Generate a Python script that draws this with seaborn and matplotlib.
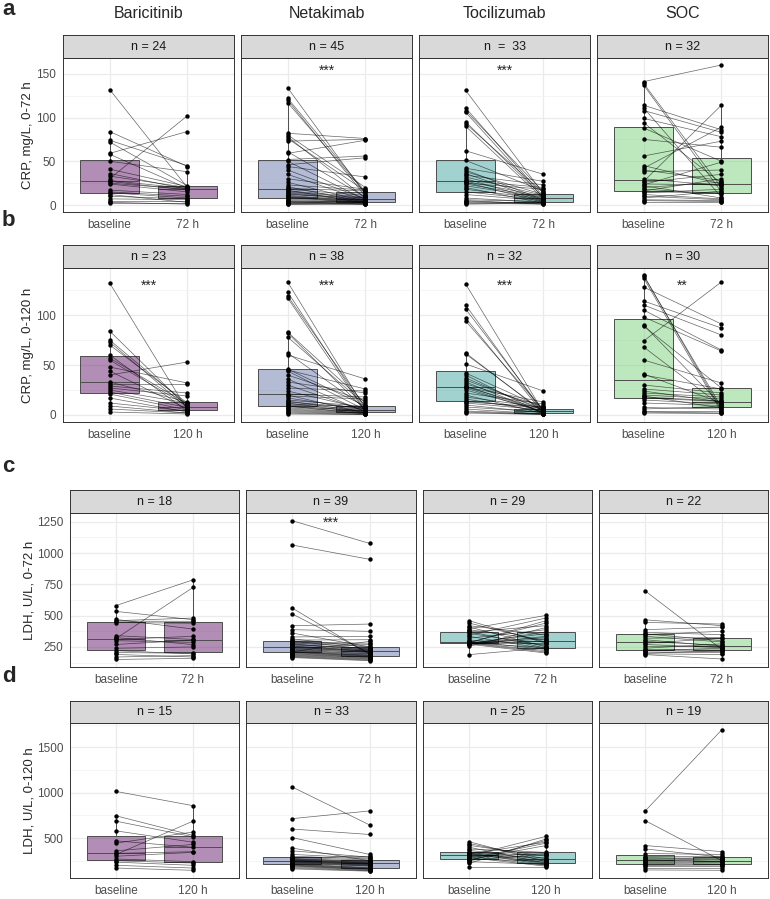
import pandas as pd
import seaborn as sns
import matplotlib.pyplot as plt
from matplotlib.ticker import FixedLocator

# Panel text
drugs = ['Baricitinib', 'Netakimab', 'Tocilizumab', 'SOC']
row_letters = ['a', 'b', 'c', 'd']
row_ylabels = ['CRP, mg/L, 0-72 h', 'CRP, mg/L, 0-120 h', 'LDH, U/L, 0-72 h', 'LDH, U/L, 0-120 h']
row_timepoints = ['72 h', '120 h', '72 h', '120 h']
strip_labels = [['n = 24', 'n = 45', 'n  =  33', 'n = 32'],
                ['n = 23', 'n = 38', 'n = 32', 'n = 30'],
                ['n = 18', 'n = 39', 'n = 29', 'n = 22'],
                ['n = 15', 'n = 33', 'n = 25', 'n = 19']]
signif = [['', '***', '***', ''],
          ['***', '***', '***', '**'],
          ['', '***', '', ''],
          ['', '', '', '']]
signif_y = [153, 129, 1242, 0]

# a: CRP 0-72 h (baseline, 72 h, paired by position)
crp72_bari_base = [132, 84, 74, 72, 59, 58, 50, 41, 36, 33, 30, 28, 27, 25, 24, 17, 15, 14, 12, 10, 7, 5, 3, 2]
crp72_bari_72h = [20, 44, 45, 22, 84, 19, 38, 21, 18, 20, 102, 19, 17, 18, 15, 12, 10, 8, 3, 7, 6, 5, 1, 2]
crp72_neta_base = [134, 122, 120, 117, 82, 80, 78, 76, 73, 61, 59, 52, 50, 46, 44, 40, 35, 30, 26, 23, 21, 19, 18,
                   17, 16, 15, 14, 13, 12, 11, 10, 9, 9, 8, 7, 6, 5, 5, 4, 3, 3, 2, 2, 1, 1]
crp72_neta_72h = [12, 15, 10, 14, 76, 20, 8, 16, 75, 9, 74, 56, 6, 54, 32, 7, 5, 18, 4, 17, 3, 16, 11,
                  2, 9, 8, 6, 5, 8, 4, 3, 7, 2, 6, 5, 4, 3, 5, 1, 4, 2, 1, 3, 1, 2]
crp72_toci_base = [131, 111, 108, 106, 95, 93, 90, 62, 51, 42, 40, 38, 36, 34, 32, 30, 28, 27, 26, 25, 24, 22, 20,
                   18, 15, 12, 8, 6, 5, 4, 3, 2, 1]
crp72_toci_72h = [13, 10, 15, 8, 9, 14, 7, 35, 16, 27, 6, 12, 5, 23, 11, 4, 20, 10, 3, 18, 9, 8, 2,
                  7, 6, 5, 3, 4, 1, 2, 3, 1, 2]
crp72_soc_base = [141, 139, 137, 114, 111, 108, 99, 94, 88, 75, 56, 45, 42, 40, 38, 30, 27, 26, 24, 23, 22, 20, 18,
                  16, 15, 14, 12, 10, 8, 6, 5, 3]
crp72_soc_72h = [160, 20, 15, 86, 9, 83, 78, 25, 50, 66, 73, 24, 89, 28, 40, 22, 114, 35, 23, 49, 8, 26, 13,
                 30, 14, 18, 7, 6, 16, 5, 4, 3]

# b: CRP 0-120 h
crp120_bari_base = [132, 84, 75, 73, 70, 60, 57, 55, 48, 44, 40, 33, 31, 29, 27, 25, 23, 21, 17, 12, 9, 6, 3]
crp120_bari_120h = [5, 8, 10, 7, 12, 4, 11, 9, 32, 6, 53, 13, 31, 22, 19, 12, 7.5, 5, 3, 4, 2, 2, 1]
crp120_neta_base = [133, 123, 119, 117, 83, 82, 78, 62, 60, 46, 45, 44, 40, 36, 33, 30, 27, 24, 21, 20, 19, 17, 15,
                    14, 13, 12, 11, 10, 9, 9, 8, 7, 6, 5, 4, 3, 2, 1]
crp120_neta_120h = [6, 4, 8, 3, 12, 5, 10, 7, 36, 9, 26, 5, 14, 3, 22, 4, 24, 6, 18, 2, 16, 5.5, 8.5,
                    3, 7, 2, 8, 6, 4, 1, 5, 3.5, 2.5, 2, 1.5, 1, 0.5, 0.5]
crp120_toci_base = [131, 110, 106, 97, 94, 62, 61, 51, 42, 40, 37, 35, 33, 31, 29, 28, 28, 27, 25, 22, 20, 18, 16,
                    14, 13, 12, 10, 8, 6, 4, 3, 2]
crp120_toci_120h = [3, 2, 4, 1.5, 5, 2.5, 3.5, 24, 7, 1, 4.5, 6, 2, 9, 3, 5.5, 13, 2.5, 4, 11, 1.5, 7.5, 3.5,
                    6.5, 8, 5, 2, 3, 1, 1, 0.5, 0.5]
crp120_soc_base = [140, 139, 137, 128, 114, 110, 105, 98, 90, 89, 74, 68, 55, 41, 40, 30, 26, 24, 22, 20, 19, 18,
                   17, 15, 12, 7.5, 6, 4, 3, 2]
crp120_soc_120h = [5, 8, 3, 91, 87, 80, 65, 64, 10, 27, 133, 9, 32, 12, 26, 22, 20, 13, 18, 16, 7, 14,
                   13.5, 11, 9.5, 6, 8.5, 4, 2, 1.5]

# c: LDH 0-72 h
ldh72_bari_base = [581, 534, 470, 460, 456, 445, 340, 325, 318, 310, 300, 270, 240, 220, 205, 190, 170, 150]
ldh72_bari_72h = [786, 468, 393, 481, 455, 440, 310, 269, 725, 335, 287, 305, 250, 195, 200, 170, 181, 160]
ldh72_neta_base = [1258, 1064, 560, 513, 420, 388, 361, 330, 315, 305, 298, 290, 285, 280, 275, 270, 265, 258, 254,
                   250, 246, 240, 235, 230, 225, 220, 216, 212, 210, 208, 205, 200, 195, 190, 185, 180, 175, 170, 165]
ldh72_neta_72h = [1077, 950, 190, 200, 433, 375, 250, 335, 245, 308, 230, 280, 270, 255, 224, 240, 235, 215, 227,
                  220, 212, 218, 208, 205, 197, 193, 186, 295, 183, 180, 176, 172, 168, 165, 160, 155, 150, 145, 140]
ldh72_toci_base = [460, 441, 420, 410, 395, 388, 375, 369, 360, 345, 335, 320, 305, 295, 287, 285, 284, 283, 282,
                   281, 280, 279, 277, 276, 275, 272, 270, 255, 189]
ldh72_toci_72h = [280, 290, 345, 250, 502, 305, 240, 420, 260, 481, 235, 388, 270, 230, 441, 285, 325, 220, 460,
                  245, 356, 210, 315, 295, 370, 202, 335, 405, 242]
ldh72_soc_base = [698, 467, 446, 388, 367, 355, 350, 335, 320, 308, 295, 280, 270, 255, 240, 229, 222, 220, 210,
                  200, 195, 189]
ldh72_soc_72h = [230, 420, 433, 409, 348, 300, 375, 290, 325, 255, 262, 320, 245, 250, 275, 225, 215, 240, 205,
                 220, 190, 154]

# d: LDH 0-120 h
ldh120_bari_base = [1015, 746, 687, 580, 470, 445, 360, 332, 320, 300, 270, 250, 235, 200, 170]
ldh120_bari_120h = [858, 530, 515, 455, 399, 567, 430, 350, 687, 343, 240, 225, 200, 170, 145]
ldh120_neta_base = [1063, 715, 600, 505, 390, 360, 320, 300, 287, 280, 275, 270, 265, 260, 257, 253, 250, 246, 242,
                    238, 235, 230, 225, 220, 215, 210, 205, 200, 195, 190, 180, 170, 160]
ldh120_neta_120h = [645, 800, 540, 320, 250, 290, 280, 270, 257, 300, 245, 240, 235, 230, 226, 223, 220, 217, 213,
                    210, 205, 200, 195, 190, 175, 170, 165, 160, 155, 150, 145, 140, 135]
ldh120_toci_base = [460, 440, 420, 400, 380, 365, 351, 340, 335, 330, 325, 320, 313, 305, 300, 295, 285, 275, 269,
                    262, 255, 250, 240, 220, 183]
ldh120_toci_120h = [240, 269, 300, 222, 343, 260, 215, 310, 205, 250, 455, 230, 285, 519, 200, 330, 190, 444, 245,
                    418, 320, 474, 210, 490, 183]
ldh120_soc_base = [798, 694, 418, 381, 330, 296, 287, 275, 265, 257, 250, 240, 231, 220, 205, 200, 190, 175, 149]
ldh120_soc_120h = [1697, 250, 351, 290, 320, 300, 265, 285, 240, 258, 275, 245, 230, 215, 207, 203, 190, 175, 145]

panels = [
    [(crp72_bari_base, crp72_bari_72h), (crp72_neta_base, crp72_neta_72h),
     (crp72_toci_base, crp72_toci_72h), (crp72_soc_base, crp72_soc_72h)],
    [(crp120_bari_base, crp120_bari_120h), (crp120_neta_base, crp120_neta_120h),
     (crp120_toci_base, crp120_toci_120h), (crp120_soc_base, crp120_soc_120h)],
    [(ldh72_bari_base, ldh72_bari_72h), (ldh72_neta_base, ldh72_neta_72h),
     (ldh72_toci_base, ldh72_toci_72h), (ldh72_soc_base, ldh72_soc_72h)],
    [(ldh120_bari_base, ldh120_bari_120h), (ldh120_neta_base, ldh120_neta_120h),
     (ldh120_toci_base, ldh120_toci_120h), (ldh120_soc_base, ldh120_soc_120h)],
]

# Styling
fill_colors = [(0.40, 0.11, 0.43, 0.5), (0.41, 0.47, 0.68, 0.5), (0.27, 0.65, 0.63, 0.5), (0.49, 0.82, 0.49, 0.5)]
row_ylim = [(-8, 168), (-7, 147), (90, 1320), (60, 1770)]
row_yticks = [[0, 50, 100, 150], [0, 50, 100], [250, 500, 750, 1000, 1250], [500, 1000, 1500]]
row_yminor = [[25, 75, 125], [25, 75, 125], [125, 375, 625, 875, 1125], [250, 750, 1250, 1750]]

# Layout in pixels (strip top, panel top, panel bottom)
W, H = 770, 899
row_px = [(35, 58, 212), (245, 268, 422), (490, 513, 667), (701, 723, 878)]
col_px_ab = [(63, 234), (241, 412), (419, 590), (597, 768)]
col_px_cd = [(70, 239), (246, 416), (423, 592), (599, 768)]
letter_y = [15, 226, 472, 682]
ylabel_x = [28, 28, 30, 29]

sns.set_style('white')
plt.rcParams['font.family'] = ['Liberation Sans', 'DejaVu Sans']

fig = plt.figure(figsize=(W / 100, H / 100), dpi=100)


def px_axes(x0, y0, x1, y1):
    return fig.add_axes([x0 / W, 1 - y1 / H, (x1 - x0) / W, (y1 - y0) / H])


edge = '#333333'
for r in range(4):
    strip_top, top, bottom = row_px[r]
    cols = col_px_ab if r < 2 else col_px_cd
    for c in range(4):
        x0, x1 = cols[c]
        base, follow = panels[r][c]
        n = len(base)
        df = pd.DataFrame({
            'id': list(range(n)) * 2,
            'pos': [0] * n + [1] * n,
            'value': list(base) + list(follow),
        })

        ax = px_axes(x0, top, x1, bottom)
        ax.set_axisbelow(True)
        sns.boxplot(data=df, x='pos', y='value', ax=ax, width=0.75, showcaps=False, showfliers=False,
                    color=fill_colors[c][:3], linecolor='#4D4D4D', linewidth=0.7)
        for p in ax.patches:
            p.set_facecolor(fill_colors[c])
        sns.lineplot(data=df, x='pos', y='value', units='id', estimator=None, sort=False, ax=ax,
                     color='black', lw=0.5, alpha=0.6, legend=False, zorder=3)
        sns.scatterplot(data=df, x='pos', y='value', ax=ax, color='black', s=10, linewidth=0,
                        legend=False, zorder=4)

        if signif[r][c]:
            ax.text(0.5, signif_y[r], signif[r][c], ha='center', va='center', fontsize=10)

        ax.set_xlim(-0.6, 1.6)
        ax.set_ylim(*row_ylim[r])
        ax.set_xticks([0, 1])
        ax.set_xticklabels(['baseline', row_timepoints[r]])
        ax.set_yticks(row_yticks[r])
        ax.yaxis.set_minor_locator(FixedLocator(row_yminor[r]))
        ax.grid(axis='x', which='major', color='#EBEBEB', lw=0.9)
        ax.grid(axis='y', which='major', color='#EBEBEB', lw=0.9)
        ax.grid(axis='y', which='minor', color='#F2F2F2', lw=0.5)
        ax.set_xlabel('')
        ax.set_ylabel('')
        ax.tick_params(axis='both', which='major', labelsize=8.5, labelcolor='#4D4D4D', color=edge,
                       length=3, width=0.6, pad=2)
        ax.tick_params(axis='y', which='minor', length=0)
        if c > 0:
            ax.tick_params(axis='y', left=False, labelleft=False)
        for s in ax.spines.values():
            s.set_color(edge)
            s.set_linewidth(0.7)

        # facet strip
        sax = px_axes(x0, strip_top, x1, top)
        sax.set_facecolor('#D9D9D9')
        sax.set_xticks([])
        sax.set_yticks([])
        for s in sax.spines.values():
            s.set_color(edge)
            s.set_linewidth(0.7)
        sax.text(0.5, 0.5, strip_labels[r][c], ha='center', va='center', fontsize=9, color='#1A1A1A',
                 transform=sax.transAxes)

        if r == 0:
            fig.text((x0 + x1) / 2 / W, 1 - 18.3 / H, drugs[c], ha='center', va='baseline', fontsize=11.5)

    fig.text(2 / W, 1 - letter_y[r] / H, row_letters[r], ha='left', va='baseline', fontsize=16,
             fontweight='bold')
    fig.text(ylabel_x[r] / W, 1 - (top + bottom) / 2 / H, row_ylabels[r], rotation=90, ha='center',
             va='center', fontsize=9.5)

plt.savefig('out.png', dpi=100)
